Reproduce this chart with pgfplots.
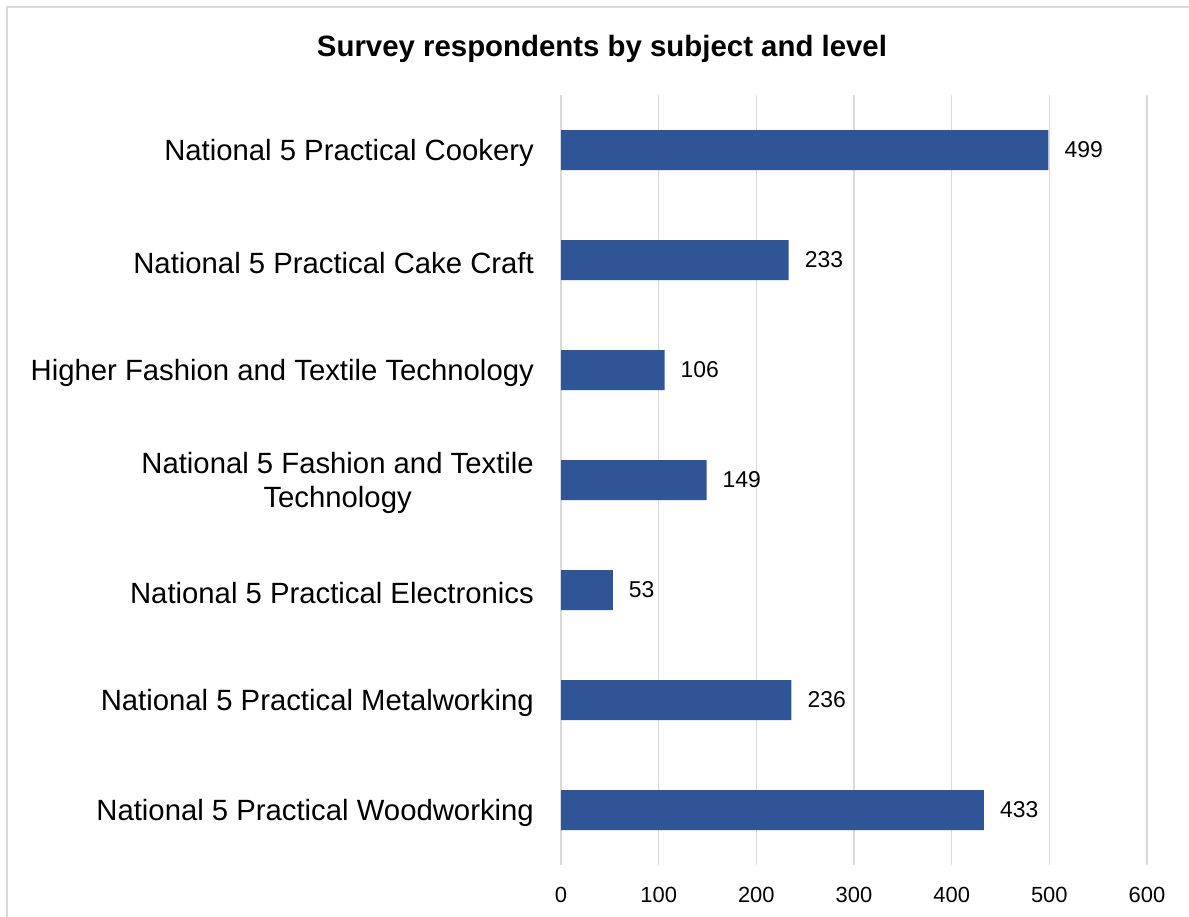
\documentclass[border=0pt]{standalone}
\usepackage{pgfplots}
\pgfplotsset{compat=1.18}
\usepackage{fontspec}
\setmainfont{Liberation Sans}
\definecolor{barblue}{RGB}{47,85,151}
\definecolor{gridgray}{RGB}{217,217,217}
\begin{document}
\begin{tikzpicture}[x=1bp,y=1bp]
\useasboundingbox (0,0) rectangle (1189,917);
\draw[gridgray, line width=1.5bp] (7,-20) -- (7,910) -- (1210,910);
\node[font=\fontsize{29.5}{34}\selectfont\bfseries, anchor=base, inner sep=0pt] at (602,860) {Survey respondents by subject and level};
\begin{axis}[at={(561bp,52bp)}, anchor=south west, scale only axis, width=586bp, height=770bp,
 xbar, bar width=40bp, xmin=0, xmax=600, ymin=-0.5, ymax=6.5, y dir=reverse,
 ytick={0,...,6},
 yticklabels={National 5 Practical Cookery, National 5 Practical Cake Craft, Higher Fashion and Textile Technology, {National 5 Fashion and Textile\\Technology}, National 5 Practical Electronics, National 5 Practical Metalworking, National 5 Practical Woodworking},
 xtick={0,100,...,600},
 axis line style={draw=none}, major tick length=0pt, xmajorgrids, grid style={gridgray, line width=1.3bp},
 nodes near coords, point meta=x,
 nodes near coords style={font=\fontsize{23}{27}\selectfont, anchor=west, inner sep=0pt, xshift=16bp},
 yticklabel style={font=\fontsize{29.4}{33.5}\selectfont, align=center, inner sep=0pt, xshift=-27bp, yshift=-3bp},
 xticklabel style={font=\fontsize{22}{26}\selectfont, inner sep=0pt, anchor=north, yshift=-22bp},
 /pgf/number format/assume math mode=true,
 clip=false
]
\addplot[fill=barblue, draw=none] coordinates {(499,0) (233,1) (106,2) (149,3) (53,4) (236,5) (433,6)};
\end{axis}
\end{tikzpicture}
\end{document}
